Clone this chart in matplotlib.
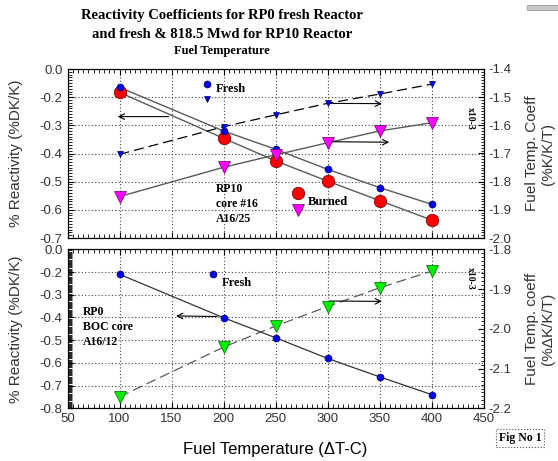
import matplotlib
matplotlib.use('Agg')
import matplotlib.pyplot as pyplot
from matplotlib.ticker import MultipleLocator
from matplotlib.patches import Rectangle
import numpy

# Data
temps = [100, 200, 250, 300, 350, 400]

# Top panel: RP10 reactor
rp10FreshReact = [-0.165, -0.320, -0.385, -0.456, -0.521, -0.580]
rp10BurnedReact = [-0.183, -0.346, -0.426, -0.498, -0.567, -0.636]
rp10FreshCoeff = [-1.703, -1.605, -1.563, -1.522, -1.489, -1.454]
rp10BurnedCoeff = [-1.853, -1.749, -1.705, -1.662, -1.620, -1.591]

# Bottom panel: RP0 reactor
rp0FreshReact = [-0.210, -0.401, -0.489, -0.580, -0.661, -0.739]
rp0FreshCoeff = [-2.171, -2.046, -1.993, -1.944, -1.897, -1.855]

topLeftTicks = [-0.1, -0.2, -0.3, -0.4, -0.5, -0.6, -0.7]
topLeftLabels = ['0.0', '-0.2', '-0.3', '-0.4', '-0.5', '-0.6', '-0.7']
topRightTicks = [-1.4, -1.5, -1.6, -1.7, -1.8, -1.9, -2.0]
botLeftTicks = [-0.1, -0.2, -0.3, -0.4, -0.5, -0.6, -0.7, -0.8]
botLeftLabels = ['0.0', '-0.2', '-0.3', '-0.4', '-0.5', '-0.6', '-0.7', '-0.8']
botRightTicks = [-1.8, -1.9, -2.0, -2.1, -2.2]
xTicks = [50, 100, 150, 200, 250, 300, 350, 400, 450]

sans = 'Liberation Sans'
serif = 'Liberation Serif'
tickColor = '#333333'
lineGray = '#5a5a5a'

# marker styles
small = dict(markeredgewidth=0.5, markersize=5)
big = dict(markeredgewidth=0.5, markersize=9)
blue = dict(color='#0000ee', markeredgecolor='#000066')
red = dict(color='#ff0000', markeredgecolor='#660000')
magenta = dict(color='#ff00ff', markeredgecolor='#660066')
green = dict(color='#00ee00', markeredgecolor='#006600')

fig = pyplot.figure(figsize=(5.58, 4.61), dpi=100)
fig.patch.set_facecolor('white')

W, H = 558.0, 461.0
left = 67.5 / W
width = (483.5 - 67.5) / W


def styleAxes(ax, twin, leftTicks, leftLabels, rightTicks, leftMinor, showX):
    ax.set_xlim(50, 450)
    ax.set_xticks(xTicks)
    ax.xaxis.set_minor_locator(MultipleLocator(5))
    ax.set_yticks(leftTicks)
    ax.set_yticklabels(leftLabels)
    ax.yaxis.set_minor_locator(MultipleLocator(leftMinor))
    ax.grid(True, which='major', linestyle=(0, (1, 2)), color='#444444', linewidth=0.8)
    ax.tick_params(which='both', direction='in', top=True, right=False,
                   labelsize=9.5, labelcolor=tickColor)
    ax.tick_params(which='major', length=4)
    ax.tick_params(which='minor', length=3)
    if not showX:
        ax.tick_params(axis='x', labelbottom=False)
    for label in ax.get_xticklabels() + ax.get_yticklabels():
        label.set_fontfamily(sans)
    twin.set_yticks(rightTicks)
    twin.set_yticklabels(['%.1f' % t for t in rightTicks])
    twin.yaxis.set_minor_locator(MultipleLocator(0.01))
    twin.tick_params(which='both', direction='in', labelsize=9.5, labelcolor=tickColor)
    twin.tick_params(which='major', length=4)
    twin.tick_params(which='minor', length=2)
    for label in twin.get_yticklabels():
        label.set_fontfamily(sans)


# ---------------- Top panel ----------------
axTop = fig.add_axes([left, 1 - 238 / H, width, (238 - 69) / H])
axTopR = axTop.twinx()
axTop.set_ylim(-0.7, -0.1)
axTopR.set_ylim(-2.0, -1.4)

axTop.plot(temps, rp10FreshReact, '-', color=lineGray, linewidth=1.0, zorder=3)
axTop.plot(temps, rp10BurnedReact, '-', color=lineGray, linewidth=1.0, zorder=3)
axTop.plot(temps, rp10FreshReact, 'o', zorder=5, **blue, **small)
axTop.plot(temps, rp10BurnedReact, 'o', zorder=4, **red, **big)
axTopR.plot(temps, rp10FreshCoeff, '-', color='black', linewidth=0.9,
            dashes=(8, 4), zorder=3)
axTopR.plot(temps, rp10FreshCoeff, 'v', zorder=5, **blue, **small)
axTopR.plot(temps, rp10BurnedCoeff, '-', color=lineGray, linewidth=1.0, zorder=3)
axTopR.plot(temps, rp10BurnedCoeff, 'v', zorder=4, **magenta, **big)

styleAxes(axTop, axTopR, topLeftTicks, topLeftLabels, topRightTicks, 0.01, False)
axTop.set_ylabel('% Reactivity (%DK/K)', fontfamily=sans, fontsize=11, color=tickColor,
                 labelpad=12)
axTopR.set_ylabel('Fuel Temp. Coeff\n(%K/K/T)', fontfamily=sans, fontsize=11,
                  color=tickColor, labelpad=10)

# legend-like annotations drawn by hand
axTop.plot([184], [-0.153], 'o', **blue, **small)
axTopR.plot([184], [-1.508], 'v', **blue, **small)
axTop.text(193, -0.171, 'Fresh', fontfamily=serif, fontweight='bold', fontsize=9,
           va='center')
axTop.plot([272], [-0.541], 'o', **red, **big)
axTopR.plot([272], [-1.900], 'v', **magenta, **big)
axTop.text(281, -0.571, 'Burned', fontfamily=serif, fontweight='bold', fontsize=9,
           va='center')
axTop.text(193, -0.505, 'RP10\ncore #16\nA16/25', fontfamily=serif, fontweight='bold',
           fontsize=8.5, linespacing=1.35, va='top')
axTop.text(437, -0.276, 'x10-3', rotation=-90, fontfamily=serif, fontweight='bold',
           fontsize=7, ha='center', va='center')

arrow = dict(arrowstyle='->', color='black', linewidth=0.8)
axTop.annotate('', xy=(95.7, -0.269), xytext=(150, -0.269), arrowprops=arrow)
axTopR.annotate('', xy=(355, -1.523), xytext=(299, -1.522), arrowprops=arrow)
axTopR.annotate('', xy=(362, -1.660), xytext=(299, -1.658), arrowprops=arrow)

# ---------------- Bottom panel ----------------
axBot = fig.add_axes([left, 1 - 408.4 / H, width, (408.4 - 249.3) / H])
axBotR = axBot.twinx()
axBot.set_ylim(-0.8, -0.1)
axBotR.set_ylim(-2.2, -1.8)

axBot.plot(temps, rp0FreshReact, '-', color='#333333', linewidth=0.9, zorder=3)
axBot.plot(temps, rp0FreshReact, 'o', zorder=5, **blue, **small)
axBotR.plot(temps, rp0FreshCoeff, '-', color=lineGray, linewidth=0.9,
            dashes=(8, 4), zorder=3)
axBotR.plot(temps, rp0FreshCoeff, 'v', zorder=4, **green, **big)

styleAxes(axBot, axBotR, botLeftTicks, botLeftLabels, botRightTicks, 0.005, True)
axBot.set_ylabel('% Reactivity (%DK/K)', fontfamily=sans, fontsize=11, color=tickColor,
                 labelpad=12)
axBotR.set_ylabel('Fuel Temp. coeff\n(%\u0394K/K/T)', fontfamily=sans, fontsize=11,
                  color=tickColor, labelpad=10)
axBot.set_xlabel('Fuel Temperature (\u0394T-C)', fontfamily=sans, fontsize=12,
                 color='black', labelpad=12)

axBot.plot([189.6], [-0.210], 'o', **blue, **small)
axBot.text(198, -0.250, 'Fresh', fontfamily=serif, fontweight='bold', fontsize=9,
           va='center')
axBot.text(65, -0.35, 'RP0\nBOC core\nA16/12', fontfamily=serif, fontweight='bold',
           fontsize=8.5, linespacing=1.35, va='top')
axBot.text(437, -0.226, 'x10-3', rotation=-90, fontfamily=serif, fontweight='bold',
           fontsize=7, ha='center', va='center')
axBot.annotate('', xy=(151.7, -0.393), xytext=(196.6, -0.396), arrowprops=arrow)
axBotR.annotate('', xy=(355, -1.931), xytext=(299, -1.930), arrowprops=arrow)

# ---------------- Titles and extras ----------------
fig.text(222 / W, 1 - 15 / H, 'Reactivity Coefficients for RP0 fresh Reactor',
         fontfamily=serif, fontweight='bold', fontsize=10.5, ha='center', va='center')
fig.text(222 / W, 1 - 34 / H, 'and fresh & 818.5 Mwd for RP10 Reactor',
         fontfamily=serif, fontweight='bold', fontsize=10.5, ha='center', va='center')
fig.text(222 / W, 1 - 51 / H, 'Fuel Temperature',
         fontfamily=serif, fontweight='bold', fontsize=9, ha='center', va='center')
fig.text(520 / W, 1 - 438 / H, 'Fig No 1', fontfamily=serif, fontweight='bold',
         fontsize=8.5, ha='center', va='center',
         bbox=dict(boxstyle='square,pad=0.25', facecolor='white', edgecolor='#555555',
                   linestyle=':', linewidth=0.8))
fig.patches.append(Rectangle((527 / W, 1 - 10 / H), 31 / W, 5 / H,
                             transform=fig.transFigure, facecolor='#c8c8c8',
                             edgecolor='#888888', linewidth=0.5))

pyplot.savefig('out.png', dpi=100)
pyplot.close()
